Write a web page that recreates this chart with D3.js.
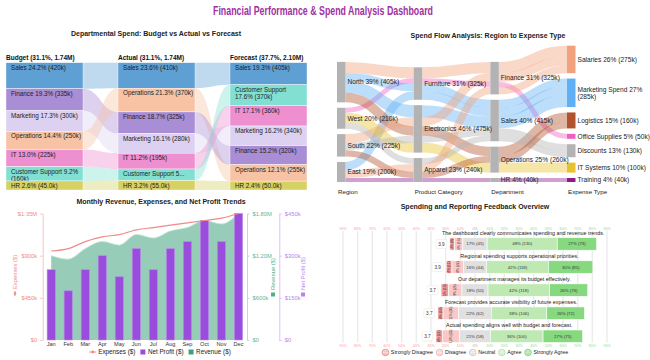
<!DOCTYPE html>
<html><head><meta charset="utf-8">
<script src="https://cdn.jsdelivr.net/npm/d3@7"></script>
<style>
body{margin:0;background:#fff;}
svg{display:block;font-family:"Liberation Sans",Arial,sans-serif;}
</style></head><body>
<svg id="c" width="650" height="360"></svg>
<script>
// ================= DATA =================
const mainTitle = "Financial Performance & Spend Analysis Dashboard";

// Panel 1: departmental spend (values in k$)
const budgetOrder = ["Sales","Finance","Marketing","Operations","IT","Customer Support","HR"];
const budgetValues = [420,335,300,250,225,160,45];
const actualOrder = ["Sales","Operations","Finance","Marketing","IT","Customer Support","HR"];
const actualValues = [410,370,325,280,195,100,55];
const forecastOrder = ["Sales","Customer Support","IT","Marketing","Finance","Operations","HR"];
const forecastValues = [405,370,360,340,320,255,50];

// Panel 2: spend flow (values in k$)
const regions = ["North","West","South","East"];
const categories = ["Furniture","Electronics","Apparel"];
const flowDepts = ["Finance","Sales","Operations","HR"];
const expenseTypes = ["Salaries","Marketing Spend","Logistics","Office Supplies","Discounts","IT Systems","Training"];
const stageLabels = ["Region","Product Category","Department","Expense Type"];
const flowPaths = [
  ["North","Furniture","Finance","Salaries",110],
  ["West","Furniture","Finance","Office Supplies",50],
  ["North","Furniture","Sales","Marketing Spend",80],
  ["East","Furniture","Sales","Marketing Spend",85],
  ["North","Electronics","Sales","Marketing Spend",120],
  ["North","Electronics","Operations","Logistics",95],
  ["South","Electronics","Finance","Salaries",90],
  ["West","Electronics","Operations","IT Systems",100],
  ["South","Electronics","Sales","Discounts",70],
  ["West","Apparel","Sales","Discounts",60],
  ["South","Apparel","Operations","Logistics",65],
  ["East","Apparel","Finance","Salaries",75],
  ["East","Apparel","HR","Training",40]
];

// Panel 3: monthly trends (k$)
const months = ["Jan","Feb","Mar","Apr","May","Jun","Jul","Aug","Sep","Oct","Nov","Dec"];
const revenue = [1200,1150,1300,1400,1350,1500,1450,1550,1600,1700,1650,1800];
const expenses = [950,975,1050,1100,1125,1175,1200,1225,1250,1275,1300,1350];
const netProfit = [250,175,250,300,225,325,250,325,350,425,350,450];
const expTicks = [0,450,900,1350];
const revTicks = [0,600,1200,1800];
const npTicks = [0,150,300,450];

// Panel 4: survey
const questions = [
  "The dashboard clearly communicates spending and revenue trends.",
  "Regional spending supports operational priorities.",
  "Our department manages its budget effectively.",
  "Forecast provides accurate visibility of future expenses.",
  "Actual spending aligns well with budget and forecast."
];
const likertLevels = ["Strongly Disagree","Disagree","Neutral","Agree","Strongly Agree"];
const sdCounts = [8,11,14,10,12];
const dCounts = [16,22,26,30,33];
const nCounts = [45,44,50,62,58];
const aCounts = [130,118,118,106,100];
const saCounts = [73,85,73,72,75];
const pctTicks = d3.range(-90,91,10);

// ================= STYLES =================
const deptColors = {"Sales":"#5e9fd4","Finance":"#a98dd5","Marketing":"#dcd1f1","Operations":"#f7c3a4",
  "IT":"#ee8fd0","Customer Support":"#82e0d3","HR":"#d5d163"};
const expColors = {"Salaries":"#f2a17d","Marketing Spend":"#60b0f6","Logistics":"#b3532e","Office Supplies":"#ef60c4",
  "Discounts":"#b3b3b3","IT Systems":"#e7c12e","Training":"#8c1c8e"};
const likertColors = ["#f39a9a","#fbc8c8","#e0e0e0","#bfe9b3","#86d97f"];
const TXT = "#222";

const svg = d3.select("#c");
const fmt3 = d3.format(".3s");

function wrapLabel(str, single, lineMax, maxLines){
  let lines;
  if (str.length <= single) lines = [str];
  else {
    lines = []; let line = "";
    str.split(" ").forEach(w=>{
      const t = line ? line + " " + w : w;
      if (t.length > lineMax && line){ lines.push(line); line = w; } else line = t;
    });
    if (line) lines.push(line);
  }
  if (maxLines && lines.length > maxLines){
    lines = lines.slice(0, maxLines);
    const last = lines[maxLines-1];
    lines[maxLines-1] = last.slice(0, lineMax-3).trimEnd() + "...";
  }
  return lines;
}

// ================= MAIN TITLE =================
svg.append("text").attr("x",323).attr("y",14.5).attr("text-anchor","middle")
  .attr("font-size",13).attr("font-weight",700).attr("fill","#a2309f")
  .attr("textLength",220).attr("lengthAdjust","spacingAndGlyphs").text(mainTitle);

// ================= PANEL 1 =================
(function(){
  const g = svg.append("g");
  g.append("text").attr("x",156).attr("y",35.5).attr("text-anchor","middle")
    .attr("font-size",7).attr("font-weight",700).attr("fill",TXT)
    .text("Departmental Spend: Budget vs Actual vs Forecast");
  const cols = [
    {name:"Budget", order:budgetOrder, values:budgetValues},
    {name:"Actual", order:actualOrder, values:actualValues},
    {name:"Forecast", order:forecastOrder, values:forecastValues}
  ];
  const xCol = d3.scalePoint().domain(cols.map(c=>c.name)).range([6,230]);
  const colW = 77, top = 62.7, bottom = 190, minH = 7;
  const grand = d3.sum(cols, c=>d3.sum(c.values));
  cols.forEach(c=>{
    const tot = d3.sum(c.values);
    c.tot = tot;
    const hs = d3.scaleLinear().domain([0,tot]).range([0, bottom-top-minH*c.values.length]);
    let y = top;
    c.nodes = c.order.map((d,i)=>{
      const h = minH + hs(c.values[i]);
      const n = {dept:d, v:c.values[i], y0:y, y1:y+h, pct:c.values[i]/tot};
      y += h; return n;
    });
  });
  for (let i=0;i<cols.length-1;i++){
    const a = cols[i], b = cols[i+1];
    const x0 = xCol(a.name)+colW, x1 = xCol(b.name), xm=(x0+x1)/2;
    a.nodes.forEach(s=>{
      const t = b.nodes.find(n=>n.dept===s.dept);
      g.append("path")
        .attr("d",`M${x0},${s.y0}C${xm},${s.y0} ${xm},${t.y0} ${x1},${t.y0}L${x1},${t.y1}C${xm},${t.y1} ${xm},${s.y1} ${x0},${s.y1}Z`)
        .attr("fill",deptColors[s.dept]).attr("fill-opacity",0.4);
    });
  }
  cols.forEach(c=>{
    const x = xCol(c.name);
    g.append("text").attr("x",x).attr("y",60.3).attr("font-size",6.5).attr("font-weight",700).attr("fill","#111")
      .text(`${c.name} (${(c.tot/grand*100).toFixed(1)}%, ${fmt3(c.tot*1000)})`);
    c.nodes.forEach(n=>{
      g.append("rect").attr("x",x).attr("y",n.y0).attr("width",colW).attr("height",n.y1-n.y0)
        .attr("fill",deptColors[n.dept]).attr("stroke","#fff").attr("stroke-width",0.4);
      const lab = `${n.dept} ${(n.pct*100).toFixed(1)}% (${fmt3(n.v*1000)})`;
      const maxLines = Math.max(1, Math.floor((n.y1-n.y0+0.5)/6.8));
      const lines = wrapLabel(lab, 23, 21, maxLines);
      const t = g.append("text").attr("font-size",6.3).attr("fill","#222");
      lines.forEach((l,k)=> t.append("tspan").attr("x",x+5).attr("y",n.y0+7+k*6.8).text(l));
    });
  });
})();

// ================= PANEL 2 =================
(function(){
  const g = svg.append("g");
  g.append("text").attr("x",488).attr("y",37.5).attr("text-anchor","middle")
    .attr("font-size",7).attr("font-weight",700).attr("fill",TXT)
    .text("Spend Flow Analysis: Region to Expense Type");
  const stages = [regions, categories, flowDepts, expenseTypes];
  const SK = {top:45.7, bottom:182, pad:5.4, w:8.5};
  const xs = d3.scaleLinear().domain([0,3]).range([337,567]);
  const total = d3.sum(flowPaths, p=>p[4]);
  const maxN = d3.max(stages, s=>s.length);
  const ky = (SK.bottom - SK.top - (maxN-1)*SK.pad)/total;
  const nodes = stages.map((names,s)=>{
    const vals = names.map(n=>d3.sum(flowPaths.filter(p=>p[s]===n), p=>p[4]));
    const colH = d3.sum(vals)*ky + (names.length-1)*SK.pad;
    let y = SK.bottom - colH;
    return names.map((n,i)=>{
      const h = vals[i]*ky;
      const node = {name:n, s, v:vals[i], x0:xs(s), y0:y, y1:y+h};
      y += h + SK.pad; return node;
    });
  });
  const nodeOf = (s,name)=>nodes[s].find(n=>n.name===name);
  const recs = flowPaths.map(p=>({path:p.slice(0,4), v:p[4], exp:p[3], ys:[]}));
  const wts = [0,1,0.1,0.01];
  nodes.forEach((col,s)=>col.forEach(node=>{
    const th = recs.filter(r=>r.path[s]===node.name);
    th.forEach(r=>{
      r.key = d3.sum([0,1,2,3].filter(t=>t!==s), t=>{const n=nodeOf(t,r.path[t]); return wts[Math.abs(s-t)]*(n.y0+n.y1)/2;});
    });
    th.sort((a,b)=>a.key-b.key);
    let off = node.y0;
    th.forEach(r=>{const w=r.v*ky; r.ys[s]=off+w/2; off+=w;});
  }));
  const lg = d3.linkHorizontal();
  recs.forEach(r=>{
    for (let s=0;s<3;s++){
      g.append("path").attr("d", lg({source:[xs(s)+SK.w, r.ys[s]], target:[xs(s+1), r.ys[s+1]]}))
        .attr("fill","none").attr("stroke",expColors[r.exp]).attr("stroke-opacity",0.42)
        .attr("stroke-width", r.v*ky);
    }
  });
  nodes.forEach((col,s)=>col.forEach(n=>{
    g.append("rect").attr("x",n.x0).attr("y",n.y0).attr("width",SK.w).attr("height",n.y1-n.y0)
      .attr("fill", s===3 ? expColors[n.name] : "#b3b3b3");
  }));
  nodes.forEach((col,s)=>col.forEach(n=>{
    const lab = `${n.name} ${Math.round(n.v/total*100)}% (${Math.round(n.v)}k)`;
    const lines = wrapLabel(lab, 25, 21);
    const cy = (n.y0+n.y1)/2 - (lines.length-1)*3.6;
    const t = g.append("text").attr("font-size",6.6).attr("fill","#222");
    lines.forEach((l,k)=>t.append("tspan").attr("x",n.x0+SK.w+2).attr("y",cy+k*7.2).attr("dy","0.35em").text(l));
  }));
  stageLabels.forEach((l,s)=>g.append("text").attr("x",xs(s)+1).attr("y",193.5)
    .attr("font-size",6.2).attr("fill","#222").text(l));
})();

// ================= PANEL 3 =================
(function(){
  const g = svg.append("g");
  g.append("text").attr("x",161).attr("y",203.5).attr("text-anchor","middle")
    .attr("font-size",7).attr("font-weight",700).attr("fill",TXT)
    .text("Monthly Revenue, Expenses, and Net Profit Trends");
  const x = d3.scaleBand().domain(months).range([42.7,247]).paddingInner(0.52).paddingOuter(0.26);
  const yE = d3.scaleLinear().domain([0,1350]).range([340,213.5]);
  const yR = d3.scaleLinear().domain([0,1800]).range([340,213.5]);
  const yP = d3.scaleLinear().domain([0,450]).range([340,213.5]);
  const cx = m=>x(m)+x.bandwidth()/2;
  const money = v=> v===0 ? "$0" : (v>=1000 ? "$"+(v/1000).toFixed(2)+"M" : "$"+v+"k");
  g.append("path").datum(revenue)
    .attr("d", d3.area().x((d,i)=>cx(months[i])).y0(yR(0)).y1(d=>yR(d)).curve(d3.curveMonotoneX))
    .attr("fill","#6db89c").attr("fill-opacity",0.72);
  g.append("path").datum(revenue)
    .attr("d", d3.line().x((d,i)=>cx(months[i])).y(d=>yR(d)).curve(d3.curveMonotoneX))
    .attr("fill","none").attr("stroke","#b8e3d2").attr("stroke-width",0.8);
  g.selectAll(".bar").data(netProfit).enter().append("rect")
    .attr("x",(d,i)=>x(months[i])).attr("width",x.bandwidth())
    .attr("y",d=>yP(d)).attr("height",d=>yP(0)-yP(d))
    .attr("fill","#9a4ddd").attr("stroke","#b98ae9").attr("stroke-width",0.6);
  g.append("path").datum(expenses)
    .attr("d", d3.line().x((d,i)=>cx(months[i])).y(d=>yE(d)).curve(d3.curveMonotoneX))
    .attr("fill","none").attr("stroke","#f08a8a").attr("stroke-width",1.2);
  function styleAxis(sel, lineC, textC){
    sel.selectAll("path").attr("stroke",lineC);
    sel.selectAll("line").attr("stroke",lineC);
    sel.selectAll("text").attr("fill",textC).attr("font-size",5.8).attr("font-family","Liberation Sans, Arial, sans-serif");
  }
  const aL = g.append("g").attr("transform","translate(42.7,0)")
    .call(d3.axisLeft(yE).tickValues(expTicks).tickFormat(money).tickSize(2.5).tickSizeOuter(0));
  styleAxis(aL,"#f7c4c4","#f08a8a");
  const aR = g.append("g").attr("transform","translate(247,0)")
    .call(d3.axisRight(yR).tickValues(revTicks).tickFormat(money).tickSize(2.5).tickSizeOuter(0));
  styleAxis(aR,"#b8e0d0","#5db796");
  const aP = g.append("g").attr("transform","translate(279.3,0)")
    .call(d3.axisRight(yP).tickValues(npTicks).tickFormat(money).tickSize(2.5).tickSizeOuter(0));
  styleAxis(aP,"#dcc0f7","#b784ee");
  months.forEach(m=>g.append("text").attr("x",cx(m)).attr("y",346).attr("text-anchor","middle")
    .attr("font-size",5.6).attr("fill","#333").text(m));
  function axisTitle(tx, ty, label, color, marker){
    const t = g.append("g").attr("transform",`translate(${tx},${ty}) rotate(-90)`);
    if (marker==="line"){
      t.append("line").attr("x1",0).attr("x2",5).attr("y1",0).attr("y2",0).attr("stroke",color).attr("stroke-width",1);
      t.append("circle").attr("cx",2.5).attr("cy",0).attr("r",1.3).attr("fill",color);
    } else {
      t.append("rect").attr("x",0.5).attr("y",-2).attr("width",4).attr("height",4).attr("fill",color);
    }
    t.append("text").attr("x",7).attr("y",0).attr("dy","0.35em").attr("font-size",5.8).attr("fill",color).text(label);
  }
  axisTitle(15,296,"Expenses ($)","#f08a8a","line");
  axisTitle(273,297,"Revenue ($)","#4faf8c","rect");
  axisTitle(303,297,"Net Profit ($)","#b784ee","rect");
  const items = [{l:"Expenses ($)",c:"#f08a8a",m:"line"},{l:"Net Profit ($)",c:"#9a4ddd",m:"rect"},{l:"Revenue ($)",c:"#3f9f7f",m:"rect"}];
  const lgG = g.append("g");
  let xx = 0;
  items.forEach(it=>{
    const ig = lgG.append("g").attr("transform",`translate(${xx},0)`);
    if (it.m==="line"){
      ig.append("line").attr("x1",0).attr("x2",7).attr("y1",0).attr("y2",0).attr("stroke",it.c).attr("stroke-width",1);
      ig.append("circle").attr("cx",3.5).attr("cy",0).attr("r",1.4).attr("fill",it.c);
    } else {
      ig.append("rect").attr("x",1.5).attr("y",-2.5).attr("width",5).attr("height",5).attr("fill",it.c);
    }
    const t = ig.append("text").attr("x",9).attr("y",0).attr("dy","0.35em").attr("font-size",6.3).attr("fill","#222").text(it.l);
    xx += 9 + t.node().getComputedTextLength() + 3.5;
  });
  lgG.attr("transform",`translate(${160 - (xx-3.5)/2},352)`);
})();

// ================= PANEL 4 =================
(function(){
  const g = svg.append("g");
  g.append("text").attr("x",475).attr("y",208.5).attr("text-anchor","middle")
    .attr("font-size",7).attr("font-weight",700).attr("fill",TXT)
    .text("Spending and Reporting Feedback Overview");
  const x = d3.scaleLinear().domain([-90,90]).range([343,607]);
  const yTop = d3.scaleLinear().domain([0,questions.length-1]).range([237.7,330]);
  const barH = 12.5;
  pctTicks.forEach(v=>{
    g.append("line").attr("x1",x(v)).attr("x2",x(v)).attr("y1",231).attr("y2",342.5)
      .attr("stroke","#ececec").attr("stroke-width",1.5);
    const col = v<0 ? "#ff9a9a" : (v>0 ? "#8fdc8f" : "#aaa");
    [229.8,346.6].forEach(yy=>g.append("text").attr("x",x(v)).attr("y",yy).attr("text-anchor","middle")
      .attr("font-size",3.6).attr("fill",col).text(Math.abs(v)+"%"));
  });
  questions.forEach((q,i)=>{
    const counts = [sdCounts[i],dCounts[i],nCounts[i],aCounts[i],saCounts[i]];
    const tot = d3.sum(counts);
    const pcts = counts.map(c=>c/tot*100);
    const start = -(pcts[0]+pcts[1]+pcts[2]/2);
    const y0 = yTop(i);
    let cur = start;
    counts.forEach((c,k)=>{
      const a = cur, b = cur + pcts[k];
      g.append("rect").attr("x",x(a)).attr("y",y0).attr("width",x(b)-x(a)).attr("height",barH)
        .attr("fill",likertColors[k]).attr("stroke","#fff").attr("stroke-width",0.6);
      const lab = `${Math.round(pcts[k])}% (${c})`;
      const mx = (x(a)+x(b))/2, my = y0+barH/2;
      if (k<2){
        g.append("text").attr("transform",`translate(${mx},${my}) rotate(-90)`).attr("text-anchor","middle")
          .attr("dy","0.35em").attr("font-size",3.3).attr("fill","#333").text(lab);
      } else {
        g.append("text").attr("x",mx).attr("y",my).attr("text-anchor","middle").attr("dy","0.35em")
          .attr("font-size",4.3).attr("fill","#333").text(lab);
      }
      cur = b;
    });
    const end = cur;
    g.append("text").attr("x",(x(start)+x(end))/2).attr("y",y0-2.6).attr("text-anchor","middle")
      .attr("font-size",5.4).attr("fill","#222").text(q);
    const mean = d3.sum(counts,(c,k)=>c*(k+1))/tot;
    const mxp = x(start)-8.5;
    g.append("rect").attr("x",mxp-5.5).attr("y",y0+barH/2-4.5).attr("width",11).attr("height",9).attr("rx",1.5)
      .attr("fill","#fff").attr("stroke","#e2e2e2").attr("stroke-width",0.5);
    g.append("text").attr("x",mxp).attr("y",y0+barH/2).attr("dy","0.35em").attr("text-anchor","middle")
      .attr("font-size",4.6).attr("fill","#333").text(mean.toFixed(1));
  });
  const iconStyle = [
    {s:"#f08080",f:"#fcd6d6",m:-1},{s:"#f3a9a9",f:"#fde6e6",m:-1},{s:"#c4c4c4",f:"#f0f0f0",m:0},
    {s:"#a9e0a0",f:"#e6f7e2",m:1},{s:"#73cf6d",f:"#cdeec8",m:1}];
  const lgG = g.append("g");
  let xx = 0;
  likertLevels.forEach((l,k)=>{
    const st = iconStyle[k];
    const ig = lgG.append("g").attr("transform",`translate(${xx},0)`);
    ig.append("circle").attr("cx",3.6).attr("cy",0).attr("r",3.3).attr("fill",st.f).attr("stroke",st.s).attr("stroke-width",0.8);
    ig.append("circle").attr("cx",2.5).attr("cy",-0.9).attr("r",0.45).attr("fill",st.s);
    ig.append("circle").attr("cx",4.7).attr("cy",-0.9).attr("r",0.45).attr("fill",st.s);
    const mouth = st.m>0 ? "M2.1,0.8 Q3.6,2.3 5.1,0.8" : (st.m<0 ? "M2.1,2 Q3.6,0.6 5.1,2" : "M2.2,1.4 L5,1.4");
    ig.append("path").attr("d",mouth).attr("fill","none").attr("stroke",st.s).attr("stroke-width",0.6);
    const t = ig.append("text").attr("x",9).attr("y",0).attr("dy","0.35em").attr("font-size",5.3).attr("fill","#222").text(l);
    xx += 9 + t.node().getComputedTextLength() + 3;
  });
  lgG.attr("transform",`translate(${475-(xx-3)/2},352.5)`);
})();
</script>
</body></html>
